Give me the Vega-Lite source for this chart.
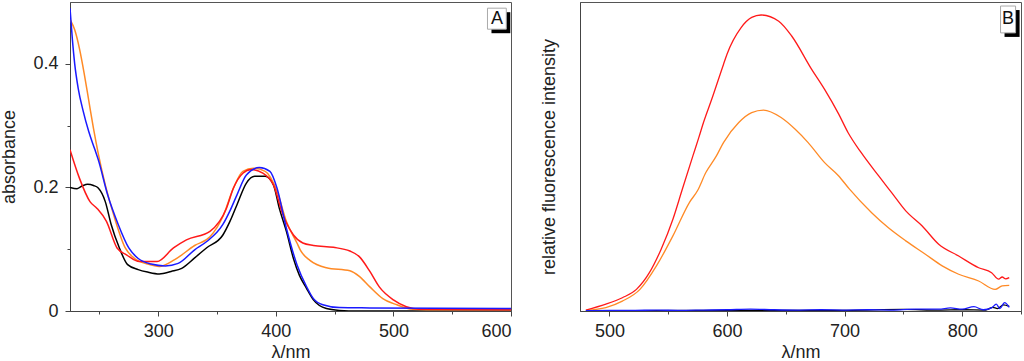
{
  "$schema": "https://vega.github.io/schema/vega-lite/v6.json",
  "padding": {"left": 0, "top": 1, "right": 0, "bottom": 0},
  "spacing": 27,
  "config": {
    "font": "Liberation Sans",
    "view": {"stroke": "#555", "strokeWidth": 1},
    "axis": {
      "grid": false,
      "domainColor": "#444",
      "tickColor": "#444",
      "labelFontSize": 18,
      "labelColor": "#222",
      "titleFontSize": 18,
      "titleFontWeight": "normal",
      "titleColor": "#222",
      "labelPadding": 6
    }
  },
  "datasets": {
    "absorb": [
      {"s": "black", "w": 225, "v": 0.200}, {"s": "black", "w": 231, "v": 0.198}, {"s": "black", "w": 236, "v": 0.203}, {"s": "black", "w": 240, "v": 0.205}, {"s": "black", "w": 245, "v": 0.203}, {"s": "black", "w": 249, "v": 0.199}, {"s": "black", "w": 255, "v": 0.177}, {"s": "black", "w": 260, "v": 0.140}, {"s": "black", "w": 267, "v": 0.102}, {"s": "black", "w": 274, "v": 0.075}, {"s": "black", "w": 283, "v": 0.067}, {"s": "black", "w": 291, "v": 0.063}, {"s": "black", "w": 301, "v": 0.060}, {"s": "black", "w": 311, "v": 0.064}, {"s": "black", "w": 320, "v": 0.069}, {"s": "black", "w": 331, "v": 0.086}, {"s": "black", "w": 341, "v": 0.102}, {"s": "black", "w": 355, "v": 0.123}, {"s": "black", "w": 361, "v": 0.145}, {"s": "black", "w": 367, "v": 0.172}, {"s": "black", "w": 375, "v": 0.207}, {"s": "black", "w": 382, "v": 0.218}, {"s": "black", "w": 391, "v": 0.218}, {"s": "black", "w": 398, "v": 0.204}, {"s": "black", "w": 403, "v": 0.166}, {"s": "black", "w": 409, "v": 0.129}, {"s": "black", "w": 415, "v": 0.085}, {"s": "black", "w": 420, "v": 0.058}, {"s": "black", "w": 426, "v": 0.037}, {"s": "black", "w": 432, "v": 0.018}, {"s": "black", "w": 443, "v": 0.004}, {"s": "black", "w": 454, "v": 0.001}, {"s": "black", "w": 470, "v": 0.0}, {"s": "black", "w": 600, "v": 0.0},
      {"s": "orange", "w": 225, "v": 0.472}, {"s": "orange", "w": 229, "v": 0.455}, {"s": "orange", "w": 233, "v": 0.425}, {"s": "orange", "w": 237, "v": 0.385}, {"s": "orange", "w": 241, "v": 0.340}, {"s": "orange", "w": 245, "v": 0.295}, {"s": "orange", "w": 249, "v": 0.255}, {"s": "orange", "w": 255, "v": 0.204}, {"s": "orange", "w": 263, "v": 0.150}, {"s": "orange", "w": 272, "v": 0.102}, {"s": "orange", "w": 280, "v": 0.085}, {"s": "orange", "w": 291, "v": 0.076}, {"s": "orange", "w": 301, "v": 0.072}, {"s": "orange", "w": 314, "v": 0.083}, {"s": "orange", "w": 331, "v": 0.106}, {"s": "orange", "w": 344, "v": 0.120}, {"s": "orange", "w": 355, "v": 0.153}, {"s": "orange", "w": 364, "v": 0.199}, {"s": "orange", "w": 372, "v": 0.226}, {"s": "orange", "w": 381, "v": 0.231}, {"s": "orange", "w": 391, "v": 0.226}, {"s": "orange", "w": 401, "v": 0.194}, {"s": "orange", "w": 409, "v": 0.145}, {"s": "orange", "w": 418, "v": 0.110}, {"s": "orange", "w": 421, "v": 0.098}, {"s": "orange", "w": 429, "v": 0.082}, {"s": "orange", "w": 443, "v": 0.070}, {"s": "orange", "w": 463, "v": 0.065}, {"s": "orange", "w": 471, "v": 0.056}, {"s": "orange", "w": 480, "v": 0.039}, {"s": "orange", "w": 491, "v": 0.020}, {"s": "orange", "w": 503, "v": 0.010}, {"s": "orange", "w": 516, "v": 0.003}, {"s": "orange", "w": 540, "v": 0.002}, {"s": "orange", "w": 600, "v": 0.002},
      {"s": "red", "w": 225, "v": 0.261}, {"s": "red", "w": 233, "v": 0.215}, {"s": "red", "w": 242, "v": 0.177}, {"s": "red", "w": 248, "v": 0.166}, {"s": "red", "w": 256, "v": 0.145}, {"s": "red", "w": 265, "v": 0.102}, {"s": "red", "w": 273, "v": 0.091}, {"s": "red", "w": 284, "v": 0.080}, {"s": "red", "w": 299, "v": 0.080}, {"s": "red", "w": 313, "v": 0.102}, {"s": "red", "w": 324, "v": 0.115}, {"s": "red", "w": 344, "v": 0.129}, {"s": "red", "w": 358, "v": 0.166}, {"s": "red", "w": 364, "v": 0.199}, {"s": "red", "w": 372, "v": 0.223}, {"s": "red", "w": 379, "v": 0.229}, {"s": "red", "w": 389, "v": 0.223}, {"s": "red", "w": 398, "v": 0.204}, {"s": "red", "w": 406, "v": 0.156}, {"s": "red", "w": 415, "v": 0.123}, {"s": "red", "w": 423, "v": 0.110}, {"s": "red", "w": 432, "v": 0.106}, {"s": "red", "w": 449, "v": 0.103}, {"s": "red", "w": 463, "v": 0.097}, {"s": "red", "w": 471, "v": 0.088}, {"s": "red", "w": 480, "v": 0.064}, {"s": "red", "w": 488, "v": 0.039}, {"s": "red", "w": 500, "v": 0.018}, {"s": "red", "w": 511, "v": 0.007}, {"s": "red", "w": 522, "v": 0.003}, {"s": "red", "w": 600, "v": 0.002},
      {"s": "blue", "w": 225, "v": 0.490}, {"s": "blue", "w": 227, "v": 0.440}, {"s": "blue", "w": 229, "v": 0.400}, {"s": "blue", "w": 232, "v": 0.360}, {"s": "blue", "w": 236, "v": 0.325}, {"s": "blue", "w": 241, "v": 0.290}, {"s": "blue", "w": 246, "v": 0.262}, {"s": "blue", "w": 249, "v": 0.245}, {"s": "blue", "w": 257, "v": 0.188}, {"s": "blue", "w": 266, "v": 0.140}, {"s": "blue", "w": 275, "v": 0.102}, {"s": "blue", "w": 283, "v": 0.085}, {"s": "blue", "w": 294, "v": 0.076}, {"s": "blue", "w": 306, "v": 0.073}, {"s": "blue", "w": 317, "v": 0.077}, {"s": "blue", "w": 331, "v": 0.099}, {"s": "blue", "w": 341, "v": 0.112}, {"s": "blue", "w": 355, "v": 0.140}, {"s": "blue", "w": 361, "v": 0.162}, {"s": "blue", "w": 367, "v": 0.188}, {"s": "blue", "w": 375, "v": 0.220}, {"s": "blue", "w": 386, "v": 0.232}, {"s": "blue", "w": 395, "v": 0.226}, {"s": "blue", "w": 401, "v": 0.199}, {"s": "blue", "w": 409, "v": 0.134}, {"s": "blue", "w": 418, "v": 0.075}, {"s": "blue", "w": 426, "v": 0.040}, {"s": "blue", "w": 432, "v": 0.020}, {"s": "blue", "w": 440, "v": 0.010}, {"s": "blue", "w": 454, "v": 0.0055}, {"s": "blue", "w": 480, "v": 0.005}, {"s": "blue", "w": 600, "v": 0.004}
    ],
    "fluor": [
      {"s": "black", "w": 480, "v": 0.0}, {"s": "black", "w": 520, "v": 0.001}, {"s": "black", "w": 600, "v": 0.002}, {"s": "black", "w": 700, "v": 0.002}, {"s": "black", "w": 750, "v": 0.005}, {"s": "black", "w": 780, "v": 0.003}, {"s": "black", "w": 800, "v": 0.004}, {"s": "black", "w": 820, "v": 0.003}, {"s": "black", "w": 826, "v": 0.012}, {"s": "black", "w": 830, "v": 0.008}, {"s": "black", "w": 835, "v": 0.02}, {"s": "black", "w": 840, "v": 0.015},
      {"s": "orange", "w": 480, "v": 0.002}, {"s": "orange", "w": 497, "v": 0.011}, {"s": "orange", "w": 511, "v": 0.032}, {"s": "orange", "w": 526, "v": 0.070}, {"s": "orange", "w": 540, "v": 0.146}, {"s": "orange", "w": 554, "v": 0.243}, {"s": "orange", "w": 568, "v": 0.351}, {"s": "orange", "w": 575, "v": 0.390}, {"s": "orange", "w": 582, "v": 0.448}, {"s": "orange", "w": 591, "v": 0.502}, {"s": "orange", "w": 597, "v": 0.545}, {"s": "orange", "w": 610, "v": 0.610}, {"s": "orange", "w": 621, "v": 0.642}, {"s": "orange", "w": 631, "v": 0.650}, {"s": "orange", "w": 646, "v": 0.626}, {"s": "orange", "w": 658, "v": 0.588}, {"s": "orange", "w": 669, "v": 0.545}, {"s": "orange", "w": 683, "v": 0.480}, {"s": "orange", "w": 695, "v": 0.437}, {"s": "orange", "w": 704, "v": 0.395}, {"s": "orange", "w": 723, "v": 0.318}, {"s": "orange", "w": 737, "v": 0.270}, {"s": "orange", "w": 752, "v": 0.227}, {"s": "orange", "w": 769, "v": 0.183}, {"s": "orange", "w": 783, "v": 0.146}, {"s": "orange", "w": 797, "v": 0.119}, {"s": "orange", "w": 814, "v": 0.097}, {"s": "orange", "w": 828, "v": 0.070}, {"s": "orange", "w": 834, "v": 0.081}, {"s": "orange", "w": 840, "v": 0.083},
      {"s": "red", "w": 480, "v": 0.003}, {"s": "red", "w": 497, "v": 0.022}, {"s": "red", "w": 511, "v": 0.043}, {"s": "red", "w": 523, "v": 0.070}, {"s": "red", "w": 534, "v": 0.124}, {"s": "red", "w": 544, "v": 0.200}, {"s": "red", "w": 554, "v": 0.297}, {"s": "red", "w": 562, "v": 0.394}, {"s": "red", "w": 571, "v": 0.502}, {"s": "red", "w": 576, "v": 0.561}, {"s": "red", "w": 580, "v": 0.610}, {"s": "red", "w": 587, "v": 0.685}, {"s": "red", "w": 597, "v": 0.798}, {"s": "red", "w": 600, "v": 0.831}, {"s": "red", "w": 612, "v": 0.917}, {"s": "red", "w": 621, "v": 0.950}, {"s": "red", "w": 629, "v": 0.958}, {"s": "red", "w": 644, "v": 0.938}, {"s": "red", "w": 655, "v": 0.890}, {"s": "red", "w": 672, "v": 0.782}, {"s": "red", "w": 683, "v": 0.717}, {"s": "red", "w": 695, "v": 0.637}, {"s": "red", "w": 703, "v": 0.577}, {"s": "red", "w": 714, "v": 0.513}, {"s": "red", "w": 729, "v": 0.437}, {"s": "red", "w": 740, "v": 0.383}, {"s": "red", "w": 752, "v": 0.324}, {"s": "red", "w": 766, "v": 0.275}, {"s": "red", "w": 780, "v": 0.216}, {"s": "red", "w": 797, "v": 0.178}, {"s": "red", "w": 814, "v": 0.140}, {"s": "red", "w": 825, "v": 0.124}, {"s": "red", "w": 831, "v": 0.103}, {"s": "red", "w": 834, "v": 0.110}, {"s": "red", "w": 837, "v": 0.104}, {"s": "red", "w": 840, "v": 0.108},
      {"s": "blue", "w": 480, "v": 0.001}, {"s": "blue", "w": 500, "v": 0.002}, {"s": "blue", "w": 520, "v": 0.002}, {"s": "blue", "w": 540, "v": 0.003}, {"s": "blue", "w": 560, "v": 0.002}, {"s": "blue", "w": 580, "v": 0.003}, {"s": "blue", "w": 600, "v": 0.004}, {"s": "blue", "w": 620, "v": 0.006}, {"s": "blue", "w": 640, "v": 0.004}, {"s": "blue", "w": 660, "v": 0.003}, {"s": "blue", "w": 680, "v": 0.004}, {"s": "blue", "w": 700, "v": 0.003}, {"s": "blue", "w": 720, "v": 0.004}, {"s": "blue", "w": 740, "v": 0.003}, {"s": "blue", "w": 760, "v": 0.006}, {"s": "blue", "w": 780, "v": 0.006}, {"s": "blue", "w": 790, "v": 0.010}, {"s": "blue", "w": 800, "v": 0.006}, {"s": "blue", "w": 810, "v": 0.014}, {"s": "blue", "w": 818, "v": 0.004}, {"s": "blue", "w": 825, "v": 0.010}, {"s": "blue", "w": 829, "v": 0.022}, {"s": "blue", "w": 832, "v": 0.008}, {"s": "blue", "w": 836, "v": 0.027}, {"s": "blue", "w": 840, "v": 0.012}
    ]
  },
  "hconcat": [
    {
      "width": 441,
      "height": 309,
      "layer": [
        {
          "data": {"name": "absorb"},
          "mark": {"type": "line", "strokeWidth": 1.5, "interpolate": "monotone", "clip": true},
          "encoding": {
            "x": {
              "field": "w", "type": "quantitative",
              "scale": {"domain": [225, 600], "nice": false, "zero": false},
              "axis": {
                "title": "λ/nm",
                "values": [250, 300, 350, 400, 450, 500, 550, 600],
                "labelExpr": "datum.value % 100 === 0 ? datum.label : ''",
                "tickSize": {"condition": {"test": "datum.value % 100 === 0", "value": 5}, "value": 3},
                "titlePadding": 3
              }
            },
            "y": {
              "field": "v", "type": "quantitative",
              "scale": {"domain": [0, 0.5], "nice": false},
              "axis": {
                "title": "absorbance",
                "values": [0, 0.1, 0.2, 0.3, 0.4],
                "format": "~g",
                "labelExpr": "round(datum.value * 10) % 2 === 0 ? datum.label : ''",
                "tickSize": {"condition": {"test": "round(datum.value * 10) % 2 === 0", "value": 5}, "value": 3},
                "labelPadding": 7,
                "titlePadding": 14
              }
            },
            "color": {
              "field": "s", "type": "nominal",
              "scale": {"domain": ["black", "orange", "red", "blue"], "range": ["#000000", "#ff8a26", "#ff1a1a", "#1a1aff"]},
              "legend": null
            }
          }
        },
        {
          "data": {"values": [{"t": "A"}]},
          "mark": {"type": "rect", "fill": "#000"},
          "encoding": {"x": {"datum": 583.4}, "x2": {"datum": 599.4}, "y": {"datum": 0.4835}, "y2": {"datum": 0.4495}}
        },
        {
          "data": {"values": [{"t": "A"}]},
          "mark": {"type": "rect", "fill": "#fff", "stroke": "#aaa", "strokeWidth": 1},
          "encoding": {"x": {"datum": 580}, "x2": {"datum": 596}, "y": {"datum": 0.49}, "y2": {"datum": 0.456}}
        },
        {
          "data": {"values": [{"t": "A"}]},
          "mark": {"type": "text", "fontSize": 18, "align": "center", "baseline": "middle", "color": "#111"},
          "encoding": {"x": {"datum": 588}, "y": {"datum": 0.473}, "text": {"field": "t"}}
        }
      ]
    },
    {
      "width": 441,
      "height": 309,
      "layer": [
        {
          "data": {"name": "fluor"},
          "mark": {"type": "line", "strokeWidth": 1.3, "interpolate": "monotone", "clip": true},
          "encoding": {
            "x": {
              "field": "w", "type": "quantitative",
              "scale": {"domain": [475, 850], "nice": false, "zero": false},
              "axis": {
                "title": "λ/nm",
                "values": [500, 550, 600, 650, 700, 750, 800, 850],
                "labelExpr": "datum.value % 100 === 0 ? datum.label : ''",
                "tickSize": {"condition": {"test": "datum.value % 100 === 0", "value": 5}, "value": 3},
                "titlePadding": 3
              }
            },
            "y": {
              "field": "v", "type": "quantitative",
              "scale": {"domain": [0, 1], "nice": false},
              "axis": {
                "title": "relative fluorescence intensity",
                "labels": false,
                "ticks": false,
                "titlePadding": 22
              }
            },
            "color": {
              "field": "s", "type": "nominal",
              "scale": {"domain": ["black", "orange", "red", "blue"], "range": ["#000000", "#ff8a26", "#ff1a1a", "#1a1aff"]},
              "legend": null
            }
          }
        },
        {
          "data": {"values": [{"t": "B"}]},
          "mark": {"type": "rect", "fill": "#000"},
          "encoding": {"x": {"datum": 836}, "x2": {"datum": 848.8}, "y": {"datum": 0.974}, "y2": {"datum": 0.887}}
        },
        {
          "data": {"values": [{"t": "B"}]},
          "mark": {"type": "rect", "fill": "#fff", "stroke": "#aaa", "strokeWidth": 1},
          "encoding": {"x": {"datum": 832.6}, "x2": {"datum": 845.4}, "y": {"datum": 0.987}, "y2": {"datum": 0.9}}
        },
        {
          "data": {"values": [{"t": "B"}]},
          "mark": {"type": "text", "fontSize": 18, "align": "center", "baseline": "middle", "color": "#111"},
          "encoding": {"x": {"datum": 839}, "y": {"datum": 0.944}, "text": {"field": "t"}}
        }
      ]
    }
  ]
}
